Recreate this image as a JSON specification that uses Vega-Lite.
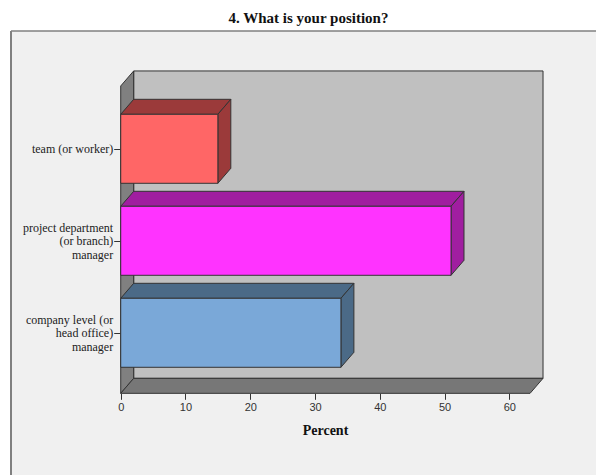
{
  "$schema": "https://vega.github.io/schema/vega-lite/v6.json",
  "width": 585,
  "height": 444,
  "autosize": {"type": "none"},
  "padding": {"left": 11, "top": 31, "right": 0, "bottom": 0},
  "background": "#ffffff",
  "config": {"view": {"fill": "#f0f0f0", "stroke": null}},
  "title": {
    "text": "4. What is your position?",
    "font": "Liberation Serif",
    "fontSize": 15,
    "fontWeight": "bold",
    "color": "#111111",
    "anchor": "middle",
    "baseline": "alphabetic",
    "dx": 5,
    "dy": 15,
    "offset": 7
  },
  "data": {
    "values": [
      {"position": "team (or worker)", "percent": 15.0},
      {"position": "project department (or branch) manager", "percent": 51.0},
      {"position": "company level (or head office) manager", "percent": 34.0}
    ]
  },
  "transform": [
    {"window": [{"op": "row_number", "as": "rank"}]},
    {"calculate": "4 - datum.rank", "as": "yc"}
  ],
  "layer": [
    {
      "transform": [{"filter": "datum.rank == 1"}],
      "mark": {"type": "rect", "fill": "#c0c0c0", "stroke": "#333333", "strokeWidth": 1},
      "encoding": {
        "x": {
          "datum": 2,
          "type": "quantitative",
          "scale": {"domain": [-16.94, 73.38], "nice": false, "zero": false},
          "axis": {
            "values": [0, 10, 20, 30, 40, 50, 60],
            "offset": -81.7,
            "domain": false,
            "grid": false,
            "ticks": true,
            "tickSize": 6,
            "tickColor": "#333333",
            "labelFont": "Liberation Sans",
            "labelFontSize": 11,
            "labelColor": "#333333",
            "labelPadding": 2,
            "title": "Percent",
            "titleFont": "Liberation Serif",
            "titleFontSize": 14,
            "titleFontWeight": "bold",
            "titleColor": "#111111",
            "titleBaseline": "alphabetic",
            "titleX": 314,
            "titleY": 41
          }
        },
        "x2": {"datum": 65.2},
        "y": {
          "datum": 0.505,
          "type": "quantitative",
          "scale": {"domain": [-0.5457, 4.2804], "nice": false, "zero": false},
          "axis": {
            "values": [1, 2, 3],
            "offset": -109.7,
            "domain": false,
            "grid": false,
            "tickSize": 7,
            "tickColor": "#333333",
            "labelExpr": "datum.value == 3 ? 'team (or worker)' : datum.value == 2 ? ['project department', '(or branch)', 'manager'] : ['company level (or', 'head office)', 'manager']",
            "labelFont": "Liberation Serif",
            "labelFontSize": 12,
            "labelLineHeight": 13.5,
            "labelColor": "#222222",
            "labelPadding": 1,
            "labelAlign": "right",
            "labelBaseline": "middle",
            "labelOffset": {"condition": {"test": "datum.value != 3", "value": -13.5}, "value": 0},
            "title": null
          }
        },
        "y2": {"datum": 3.846}
      }
    },
    {
      "transform": [
        {"filter": "datum.rank <= 2"},
        {"calculate": "datum.rank - 1", "as": "k"},
        {"calculate": "2 * datum.k", "as": "wx"},
        {"calculate": "0.342 + 0.163 * datum.k", "as": "wy"},
        {"calculate": "3.683 + 0.163 * datum.k", "as": "wy2"}
      ],
      "mark": {"type": "area", "orient": "vertical", "fill": "#808080", "stroke": "#333333", "strokeWidth": 1},
      "encoding": {
        "x": {"field": "wx", "type": "quantitative"},
        "y": {"field": "wy", "type": "quantitative"},
        "y2": {"field": "wy2"}
      }
    },
    {
      "transform": [
        {"filter": "datum.rank <= 2"},
        {"calculate": "datum.rank - 1", "as": "k"},
        {"calculate": "0.342 + 0.163 * datum.k", "as": "fy"},
        {"calculate": "2 * datum.k", "as": "fx"},
        {"calculate": "63.2 + 2 * datum.k", "as": "fx2"}
      ],
      "mark": {"type": "area", "orient": "horizontal", "fill": "#777777", "stroke": "#333333", "strokeWidth": 1},
      "encoding": {
        "y": {"field": "fy", "type": "quantitative"},
        "x": {"field": "fx", "type": "quantitative"},
        "x2": {"field": "fx2"}
      }
    },
    {
      "transform": [
        {"calculate": "[0, 1]", "as": "k"},
        {"flatten": ["k"]},
        {"calculate": "datum.yc + 0.375 + 0.163 * datum.k", "as": "ty"},
        {"calculate": "2 * datum.k", "as": "tx"},
        {"calculate": "datum.percent + 2 * datum.k", "as": "tx2"}
      ],
      "mark": {"type": "area", "orient": "horizontal", "stroke": "#333333", "strokeWidth": 1, "opacity": 1},
      "encoding": {
        "y": {"field": "ty", "type": "quantitative"},
        "x": {"field": "tx", "type": "quantitative"},
        "x2": {"field": "tx2"},
        "color": {
          "field": "position",
          "type": "nominal",
          "scale": {
            "domain": ["team (or worker)", "project department (or branch) manager", "company level (or head office) manager"],
            "range": ["#9b3a3a", "#a01ea0", "#4b6a87"]
          },
          "legend": null
        }
      }
    },
    {
      "transform": [
        {"calculate": "[0, 1]", "as": "k"},
        {"flatten": ["k"]},
        {"calculate": "datum.percent + 2 * datum.k", "as": "sx"},
        {"calculate": "datum.yc - 0.375 + 0.163 * datum.k", "as": "sy"},
        {"calculate": "datum.yc + 0.375 + 0.163 * datum.k", "as": "sy2"}
      ],
      "mark": {"type": "area", "orient": "vertical", "stroke": "#333333", "strokeWidth": 1, "opacity": 1},
      "encoding": {
        "x": {"field": "sx", "type": "quantitative"},
        "y": {"field": "sy", "type": "quantitative"},
        "y2": {"field": "sy2"},
        "color": {
          "field": "position",
          "type": "nominal",
          "scale": {
            "domain": ["team (or worker)", "project department (or branch) manager", "company level (or head office) manager"],
            "range": ["#9b3a3a", "#a01ea0", "#4b6a87"]
          },
          "legend": null
        }
      }
    },
    {
      "transform": [
        {"calculate": "datum.yc - 0.375", "as": "by"},
        {"calculate": "datum.yc + 0.375", "as": "by2"}
      ],
      "mark": {"type": "rect", "stroke": "#333333", "strokeWidth": 1, "opacity": 1},
      "encoding": {
        "x": {"field": "percent", "type": "quantitative"},
        "x2": {"datum": 0},
        "y": {"field": "by", "type": "quantitative"},
        "y2": {"field": "by2"},
        "color": {
          "field": "position",
          "type": "nominal",
          "scale": {
            "domain": ["team (or worker)", "project department (or branch) manager", "company level (or head office) manager"],
            "range": ["#ff6666", "#ff33ff", "#7aa8d8"]
          },
          "legend": null
        }
      }
    },
    {
      "transform": [{"filter": "datum.rank == 1"}],
      "mark": {"type": "rule", "color": "#808080", "strokeWidth": 2},
      "encoding": {
        "x": {"datum": -16.94, "type": "quantitative"}
      }
    },
    {
      "transform": [{"filter": "datum.rank == 1"}],
      "mark": {"type": "rule", "color": "#808080", "strokeWidth": 1.5},
      "encoding": {
        "y": {"datum": 4.2804, "type": "quantitative"}
      }
    }
  ],
  "resolve": {"scale": {"color": "independent"}}
}
